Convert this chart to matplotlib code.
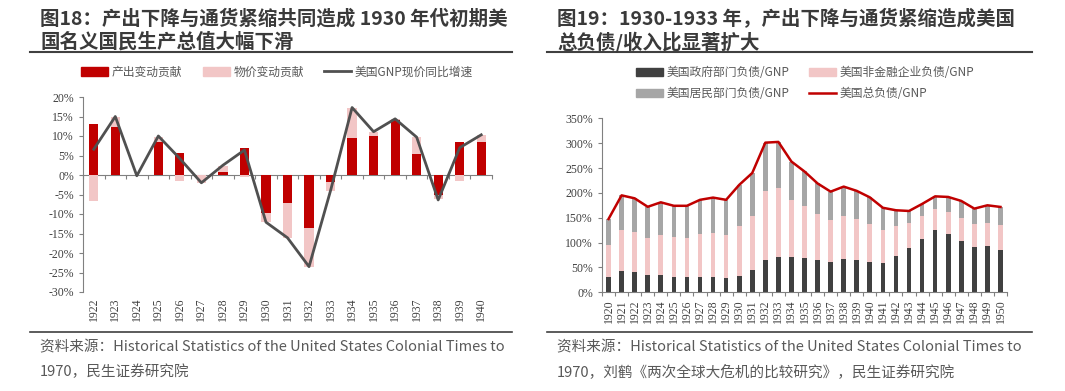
import matplotlib
matplotlib.use("Agg")
import matplotlib.pyplot as plt
import numpy as np
from matplotlib.patches import Patch
from matplotlib.lines import Line2D

plt.rcParams['font.family'] = ['Noto Sans CJK SC', 'DejaVu Sans']

# ---- left chart data (%, 1922-1940) ----
years_l = [str(y) for y in range(1922, 1941)]
output_contrib = [13.1, 12.4, 0.0, 8.5, 5.7, 0.0, 0.7, 6.8, -9.8, -7.3, -13.7, -1.7,
                  9.4, 10.1, 14.0, 5.3, -5.0, 8.4, 8.5]
price_contrib = [-6.6, 2.4, 0.0, 1.3, -1.5, -2.0, 1.6, -0.4, -2.3, -8.8, -9.8, -2.4,
                 7.9, 0.8, 0.4, 4.4, -1.2, -1.5, 1.8]
gnp_growth = [6.6, 15.0, -0.2, 10.0, 4.2, -2.0, 2.5, 6.4, -12.1, -16.1, -23.5, -4.0,
              17.3, 11.1, 14.4, 9.7, -6.4, 7.0, 10.3]

# ---- right chart data (% of GNP, 1920-1950) ----
years_r = [str(y) for y in range(1920, 1951)]
gov_debt = [31.5, 42.9, 40.9, 34.9, 34.9, 31.5, 30.9, 30.9, 30.9, 28.2, 32.9, 45.6,
            64.4, 71.8, 70.4, 69.1, 65.0, 61.7, 67.0, 65.7, 61.7, 59.0, 73.8, 88.5,
            108.0, 126.0, 118.0, 103.3, 90.5, 92.6, 85.2]
corp_debt = [64.4, 81.8, 79.8, 74.4, 79.8, 79.2, 77.8, 85.8, 88.5, 86.5, 101.1, 108.4,
             138.6, 138.9, 115.4, 104.6, 92.6, 83.8, 87.0, 81.3, 76.3, 66.4, 59.7, 50.3,
             45.0, 41.0, 43.6, 46.7, 46.3, 47.4, 50.3]
hh_debt = [51.6, 70.3, 68.3, 62.7, 66.3, 63.3, 65.3, 69.3, 71.1, 71.3, 82.0, 86.0,
           98.0, 91.8, 77.2, 69.3, 61.4, 57.0, 58.6, 57.0, 53.0, 44.6, 31.5, 24.8,
           24.7, 26.0, 30.2, 33.8, 31.5, 35.0, 36.2]
total_debt = [147.5, 195.0, 189.0, 172.0, 181.0, 174.0, 174.0, 186.0, 190.5, 186.0, 216.0, 240.0,
              301.0, 302.5, 263.0, 243.0, 219.0, 202.5, 212.6, 204.0, 191.0, 170.0, 165.0, 163.6,
              177.7, 193.0, 191.8, 183.8, 168.3, 175.0, 171.7]

RED = '#C00000'
PINK = '#F2C6C6'
DARK = '#404040'
GRAY = '#A6A6A6'
TXT = '#404040'
SERIF = 'Liberation Serif'

fig = plt.figure(figsize=(10.65, 3.91), dpi=100)
W, H = 1065, 391


def fx(px):
    return px / W


def fy(py):
    return 1 - py / H


# titles and rules
title_kw = dict(fontsize=14, fontweight='bold', color='#3a3a3a', va='center', ha='left')
fig.text(fx(40), fy(19), '图18：产出下降与通货紧缩共同造成 1930 年代初期美', **title_kw)
fig.text(fx(40), fy(42), '国名义国民生产总值大幅下滑', **title_kw)
fig.text(fx(557), fy(19), '图19：1930-1933 年，产出下降与通货紧缩造成美国', **title_kw)
fig.text(fx(557), fy(42), '总负债/收入比显著扩大', **title_kw)
for x0, x1 in [(30, 512), (547, 1032)]:
    fig.add_artist(Line2D([fx(x0), fx(x1)], [fy(52), fy(52)], color='#404040', lw=1.5))
    fig.add_artist(Line2D([fx(x0), fx(x1)], [fy(332), fy(332)], color='#404040', lw=1.2))

foot_kw = dict(fontsize=10.5, color='#595959', va='center', ha='left')
fig.text(fx(40), fy(347), '资料来源：Historical Statistics of the United States Colonial Times to', **foot_kw)
fig.text(fx(40), fy(372), '1970，民生证券研究院', **foot_kw)
fig.text(fx(557), fy(347), '资料来源：Historical Statistics of the United States Colonial Times to', **foot_kw)
fig.text(fx(557), fy(372), '1970，刘鹤《两次全球大危机的比较研究》，民生证券研究院', **foot_kw)

# ---------- left chart ----------
ax1 = fig.add_axes([fx(83), fy(292), fx(492 - 83), (292 - 97) / H])
xl = np.arange(len(years_l))
out = np.array(output_contrib)
prc = np.array(price_contrib)
prc_bottom = np.where(np.sign(prc) == np.sign(out), out, 0)
ax1.bar(xl, out, width=0.43, color=RED, zorder=2)
ax1.bar(xl, prc, width=0.43, bottom=prc_bottom, color=PINK, zorder=2)
ax1.plot(xl, gnp_growth, color='#505050', lw=2, zorder=3)
ax1.set_xlim(-0.5, len(years_l) - 0.5)
ax1.set_ylim(-30, 20)
ax1.set_yticks(range(-30, 21, 5))
ax1.set_yticklabels([f'{v}%' for v in range(-30, 21, 5)], family=SERIF, fontsize=8.5, color=TXT)
ax1.set_xticks(xl)
ax1.set_xticklabels(years_l, rotation=90, family=SERIF, fontsize=8.5, color=TXT)
ax1.tick_params(axis='x', length=0, pad=4)
ax1.tick_params(axis='y', length=3, color='#808080', width=0.8)
for s in ['top', 'right', 'bottom']:
    ax1.spines[s].set_visible(False)
ax1.spines['left'].set_color('#808080')
zero_ax = ax1.secondary_xaxis(30 / 50)
zero_ax.set_xticks(np.arange(-0.5, len(years_l), 1.0))
zero_ax.set_xticklabels([])
zero_ax.tick_params(direction='in', length=3, color='#808080', width=0.8)
for s in zero_ax.spines.values():
    s.set_color('#808080')

leg1 = [Patch(color=RED, label='产出变动贡献'),
        Patch(color=PINK, label='物价变动贡献'),
        Line2D([], [], color='#505050', lw=2, label='美国GNP现价同比增速')]
fig.legend(handles=leg1, loc='center', bbox_to_anchor=(fx(277), fy(72)), ncol=3,
           frameon=False, fontsize=8.5, handlelength=2.3, columnspacing=1.7,
           handletextpad=0.3, labelcolor='#595959')

# ---------- right chart ----------
ax2 = fig.add_axes([fx(602), fy(292.3), fx(1007 - 602), (292.3 - 118.3) / H])
xr = np.arange(len(years_r))
g = np.array(gov_debt)
c = np.array(corp_debt)
h = np.array(hh_debt)
ax2.bar(xr, g, width=0.36, color=DARK, zorder=2)
ax2.bar(xr, c, width=0.36, bottom=g, color=PINK, zorder=2)
ax2.bar(xr, h, width=0.36, bottom=g + c, color=GRAY, zorder=2)
ax2.plot(xr, total_debt, color=RED, lw=1.8, zorder=3)
ax2.set_xlim(-0.5, len(years_r) - 0.5)
ax2.set_ylim(0, 350)
ax2.set_yticks(range(0, 351, 50))
ax2.set_yticklabels([f'{v}%' for v in range(0, 351, 50)], family=SERIF, fontsize=8.5, color=TXT)
ax2.set_xticks(np.arange(-0.5, len(years_r), 1.0))
ax2.set_xticklabels([])
ax2.set_xticks(xr, minor=True)
ax2.set_xticklabels(years_r, minor=True, rotation=90, family=SERIF, fontsize=8.5, color=TXT)
ax2.tick_params(axis='x', which='major', length=3, color='#808080', width=0.8)
ax2.tick_params(axis='x', which='minor', length=0, pad=5)
ax2.tick_params(axis='y', length=3, color='#808080', width=0.8)
for s in ['top', 'right']:
    ax2.spines[s].set_visible(False)
ax2.spines['left'].set_color('#808080')
ax2.spines['bottom'].set_color('#808080')

leg2 = [Patch(color=DARK, label='美国政府部门负债/GNP'),
        Patch(color=GRAY, label='美国居民部门负债/GNP'),
        Patch(color=PINK, label='美国非金融企业负债/GNP'),
        Line2D([], [], color=RED, lw=1.8, label='美国总负债/GNP')]
fig.legend(handles=leg2, loc='center', bbox_to_anchor=(fx(805), fy(83)), ncol=2,
           frameon=False, fontsize=8.5, handlelength=2.3, columnspacing=1.7,
           handletextpad=0.3, labelspacing=0.65, labelcolor='#595959')

fig.savefig('out.png', dpi=100)
